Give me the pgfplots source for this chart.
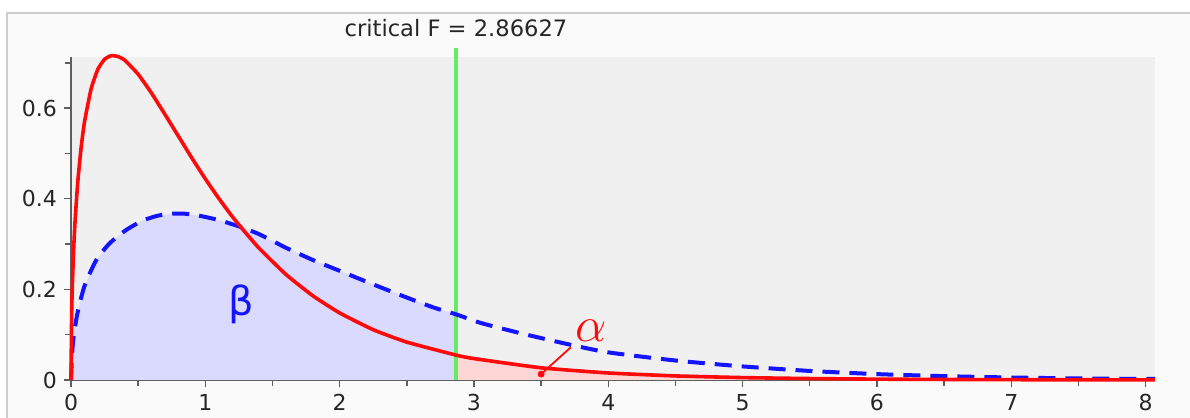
\documentclass[border=0pt]{standalone}
\usepackage{fontspec}
\setmainfont{DejaVu Sans}
\usepackage{pgfplots}
\pgfplotsset{compat=1.18}
\definecolor{plotbg}{RGB}{240,240,240}
\definecolor{outerbg}{RGB}{250,250,250}
\definecolor{framegray}{RGB}{205,205,205}
\definecolor{axisgray}{RGB}{95,95,95}
\definecolor{critgreen}{RGB}{100,236,100}
\definecolor{betafill}{RGB}{218,218,255}
\definecolor{alphafill}{RGB}{255,214,214}
\definecolor{curveblue}{RGB}{20,20,255}
\definecolor{curvered}{RGB}{255,10,10}

% central F(3,36) density, read/estimated values
\pgfplotstableread{
x y
0 0
0.005 0.148
0.01 0.208
0.02 0.290
0.03 0.349
0.05 0.436
0.075 0.512
0.1 0.569
0.15 0.643
0.2 0.686
0.25 0.708
0.3 0.716
0.35 0.714
0.4 0.706
0.5 0.675
0.6 0.633
0.7 0.586
0.8 0.538
0.9 0.490
1.0 0.444
1.1 0.401
1.2 0.361
1.3 0.325
1.4 0.291
1.6 0.233
1.8 0.186
2.0 0.148
2.25 0.111
2.5 0.0836
2.86627 0.0550
3.0 0.0473
3.5 0.0269
4.0 0.0155
4.5 0.0090
5.0 0.0053
5.5 0.0032
6.0 0.0019
6.5 0.0012
7.0 0.0007
7.5 0.0005
8.07 0.0003
}\redcurve

% tail for the alpha area
\pgfplotstableread{
x y
2.86627 0.0550
3.0 0.0473
3.5 0.0269
4.0 0.0155
4.5 0.0090
5.0 0.0053
5.5 0.0032
6.0 0.0019
6.5 0.0012
7.0 0.0007
7.5 0.0005
8.07 0.0003
}\alphaarea

% alternative (noncentral) density
\pgfplotstableread{
x y
0 0
0.01 0.066
0.025 0.108
0.05 0.150
0.1 0.207
0.185 0.263
0.285 0.301
0.41 0.331
0.535 0.352
0.65 0.363
0.75 0.367
0.85 0.367
0.95 0.363
1.1 0.353
1.25 0.339
1.4 0.322
1.6 0.292
1.8 0.265
2.0 0.241
2.25 0.211
2.5 0.182
2.7 0.160
2.86627 0.145
3.05 0.126
3.35 0.103
3.7 0.079
4.0 0.061
4.5 0.043
5.0 0.030
5.5 0.020
6.0 0.013
6.5 0.0085
7.0 0.0055
7.5 0.0035
8.07 0.0022
}\bluecurve

\pgfplotstableread{
x y
0 0
0.01 0.066
0.025 0.108
0.05 0.150
0.1 0.207
0.185 0.263
0.285 0.301
0.41 0.331
0.535 0.352
0.65 0.363
0.75 0.367
0.85 0.367
0.95 0.363
1.1 0.353
1.25 0.339
1.4 0.322
1.6 0.292
1.8 0.265
2.0 0.241
2.25 0.211
2.5 0.182
2.7 0.160
2.86627 0.145
}\betaarea

\begin{document}
\begin{tikzpicture}
\path[use as bounding box] (-35.5pt,-19pt) rectangle (559.5pt,190pt);
\fill[white] (-35.5pt,-19pt) rectangle (559.5pt,190pt);
\fill[outerbg] (-32pt,-19pt) rectangle (559.5pt,183.5pt);
\draw[framegray, line width=1.2pt] (-32pt,-19pt) -- (-32pt,183.5pt) -- (559.5pt,183.5pt);

\begin{axis}[
  at={(0pt,0pt)}, anchor=south west, scale only axis,
  width=542pt, height=161.5pt,
  xmin=0, xmax=8.07, ymin=0, ymax=0.713,
  axis x line*=bottom, axis y line*=left,
  axis line style={axisgray, line width=1.4pt},
  axis background/.style={fill=plotbg},
  xtick={0,1,...,8}, ytick={0,0.2,0.4,0.6},
  yticklabels={0,0.2,0.4,0.6},
  minor xtick={0.5,1.5,...,7.5}, minor ytick={0.1,0.3,0.5,0.7},
  tick align=outside, major tick length=3.5pt, minor tick length=3pt,
  tick style={axisgray, line width=0.7pt},
  tick label style={font=\fontsize{11}{11}\selectfont, text=black!85},
  /pgf/number format/assume math mode=true,
  clip=false,
]
\addplot[draw=none, fill=betafill] table {\betaarea} \closedcycle;
\addplot[draw=none, fill=alphafill] table {\alphaarea} \closedcycle;
\addplot[critgreen, line width=1.6pt] coordinates {(2.86627,0) (2.86627,0.733)};
\addplot[curveblue, line width=2pt, dash pattern=on 8.5pt off 5pt, smooth, tension=0.4] table {\bluecurve};
\addplot[curvered, line width=1.8pt, smooth, tension=0.3] table {\redcurve};
\addplot[curvered, line width=0.9pt] coordinates {(3.5,0.013) (3.72,0.072)};
\addplot[curvered, only marks, mark=*, mark size=1.5pt] coordinates {(3.5,0.013)};
\node[text=curveblue, font=\fontsize{20}{20}\selectfont] at (axis cs:1.27,0.166) {β};
\node[text=curvered, font=\fontsize{24}{24}\selectfont] at (axis cs:3.87,0.108) {$\alpha$};
\node[font=\fontsize{11.3}{11.3}\selectfont, text=black!85] at (axis cs:2.866,0.777) {critical F = 2.86627};
\end{axis}
\end{tikzpicture}
\end{document}
